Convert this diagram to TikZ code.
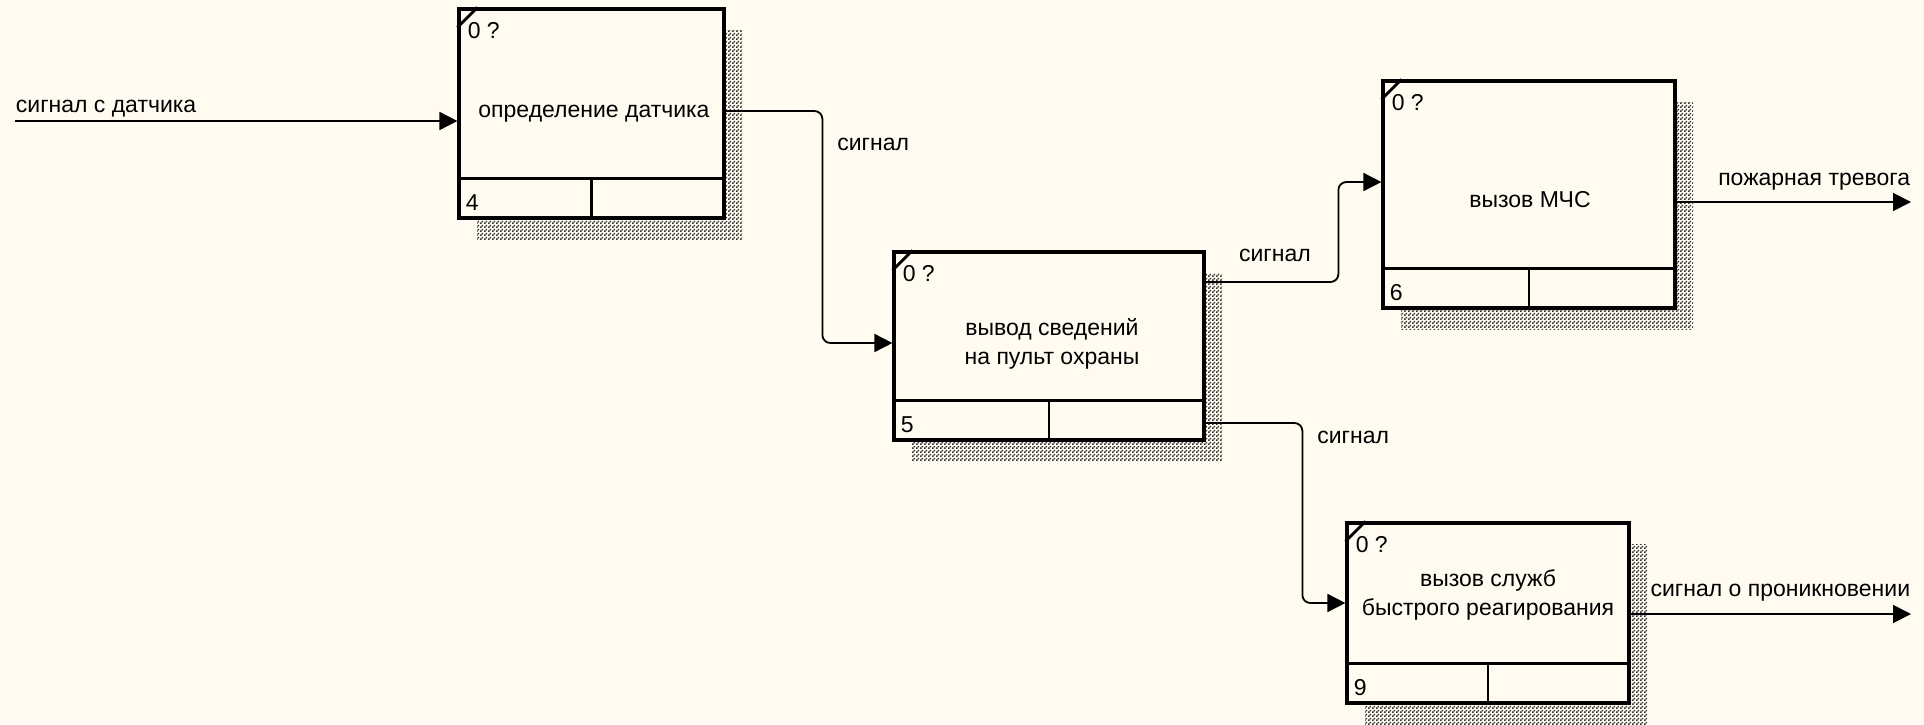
\documentclass[tikz,border=0pt]{standalone}
\usepackage{fontspec}
\setmainfont{Liberation Sans}
\usetikzlibrary{arrows.meta,shadows,patterns}
\definecolor{paper}{RGB}{255,251,240}
\pgfdeclarepatternformonly{shadowdots}{\pgfqpoint{0pt}{0pt}}{\pgfqpoint{2pt}{2pt}}{\pgfqpoint{2pt}{2pt}}{%
  \pgfpathrectangle{\pgfqpoint{0pt}{0pt}}{\pgfqpoint{1pt}{1pt}}%
  \pgfpathrectangle{\pgfqpoint{1pt}{1pt}}{\pgfqpoint{1pt}{1pt}}%
  \pgfusepath{fill}}

\begin{document}
\begin{tikzpicture} [
    x=0.5pt, y=-0.5pt,
    font=\fontsize{11.5}{14.5}\selectfont,
    block/.style    = { rectangle, draw, line width=1.6pt, fill=paper,
                        drop shadow={shadow xshift=9pt, shadow yshift=-10.5pt,
                                     opacity=1, pattern=shadowdots,
                                     pattern color=black!80} },
    line/.style     = { draw, line width=0.9pt, rounded corners=4pt,
                        -{Triangle[length=9pt,width=9pt]} },
    tag/.style      = { inner sep=0pt },
    rule/.style     = { line width=1.4pt },
  ]

  \fill[paper] (0,0) rectangle (1924,724);

  % Define nodes
  \node[block, minimum width=132.5pt, minimum height=104.5pt] (det) at (591.5,113.5) {};
  \node[block, minimum width=155pt, minimum height=94pt] (vyv) at (1049,346) {};
  \node[block, minimum width=146pt, minimum height=113.5pt] (vyd) at (1529,194.5) {};
  \node[block, minimum width=141pt, minimum height=90pt] (sl) at (1488,613) {};

  \node[tag] (det-t) at (594,114) {определение датчика};
  \node[tag, align=center] (vyv-t) at (1052,344) {вывод сведений\\на пульт охраны};
  \node[tag] (vyd-t) at (1530,200) {вызов МЧС};
  \node[tag, align=center] (sl-t) at (1488,595) {вызов служб\\быстрого реагирования};

  % bottom rows, corners and numbers
  \draw[rule] ([yshift=20.5pt]det.south west) -- ([yshift=20.5pt]det.south east)
              ([yshift=20.5pt]det.south) -- (det.south);
  \draw[rule] ([yshift=-10pt]det.north west) -- ([xshift=10pt]det.north west);
  \node[tag, anchor=west] (det-n) at ([xshift=5pt,yshift=-11.5pt]det.north west) {0 ?};
  \node[tag, anchor=west] (det-c) at ([xshift=4pt,yshift=8.5pt]det.south west) {4};

  \draw[rule] ([yshift=20.5pt]vyv.south west) -- ([yshift=20.5pt]vyv.south east)
              ([yshift=20.5pt]vyv.south) -- (vyv.south);
  \draw[rule] ([yshift=-10pt]vyv.north west) -- ([xshift=10pt]vyv.north west);
  \node[tag, anchor=west] (vyv-n) at ([xshift=5pt,yshift=-11.5pt]vyv.north west) {0 ?};
  \node[tag, anchor=west] (vyv-c) at ([xshift=4pt,yshift=8.5pt]vyv.south west) {5};

  \draw[rule] ([yshift=20.5pt]vyd.south west) -- ([yshift=20.5pt]vyd.south east)
              ([yshift=20.5pt]vyd.south) -- (vyd.south);
  \draw[rule] ([yshift=-10pt]vyd.north west) -- ([xshift=10pt]vyd.north west);
  \node[tag, anchor=west] (vyd-n) at ([xshift=5pt,yshift=-11.5pt]vyd.north west) {0 ?};
  \node[tag, anchor=west] (vyd-c) at ([xshift=4pt,yshift=8.5pt]vyd.south west) {6};

  \draw[rule] ([yshift=20.5pt]sl.south west) -- ([yshift=20.5pt]sl.south east)
              ([yshift=20.5pt]sl.south) -- (sl.south);
  \draw[rule] ([yshift=-10pt]sl.north west) -- ([xshift=10pt]sl.north west);
  \node[tag, anchor=west] (sl-n) at ([xshift=5pt,yshift=-11.5pt]sl.north west) {0 ?};
  \node[tag, anchor=west] (sl-c) at ([xshift=4pt,yshift=8.5pt]sl.south west) {9};

  \coordinate (src) at (15,121);
  \coordinate (alarm) at (1911,202);
  \coordinate (alert) at (1911,614);

  % connect the nodes
  \path [line] (src) --node[tag, pos=0, anchor=base west, yshift=4.5pt](l-src){сигнал с датчика} ([yshift=-3.75pt]det.west);
  \path [line] ([yshift=1.25pt]det.east) -| node[tag, pos=0.573, anchor=west, xshift=7pt](l-1){сигнал}
               ([xshift=-35pt,yshift=1.5pt]vyv.west) -- ([yshift=1.5pt]vyv.west);
  \path [line] ([yshift=32pt]vyv.east) -| node[tag, pos=0.261, yshift=13.5pt](l-2){сигнал}
               ([xshift=-21.5pt,yshift=6.25pt]vyd.west) -- ([yshift=6.25pt]vyd.west);
  \path [line] ([yshift=-38.5pt]vyv.east) -| node[tag, pos=0.539, anchor=west, xshift=7pt](l-3){сигнал}
               ([xshift=-21.5pt,yshift=5pt]sl.west) -- ([yshift=5pt]sl.west);
  \path [line] ([yshift=-3.75pt]vyd.east) --node[tag, pos=1, anchor=base east, yshift=8.5pt](l-alarm){пожарная тревога} (alarm);
  \path [line] ([yshift=-0.5pt]sl.east) --node[tag, pos=1, anchor=base east, yshift=9pt](l-alert){сигнал о проникновении} (alert);
\end{tikzpicture}
\end{document}
